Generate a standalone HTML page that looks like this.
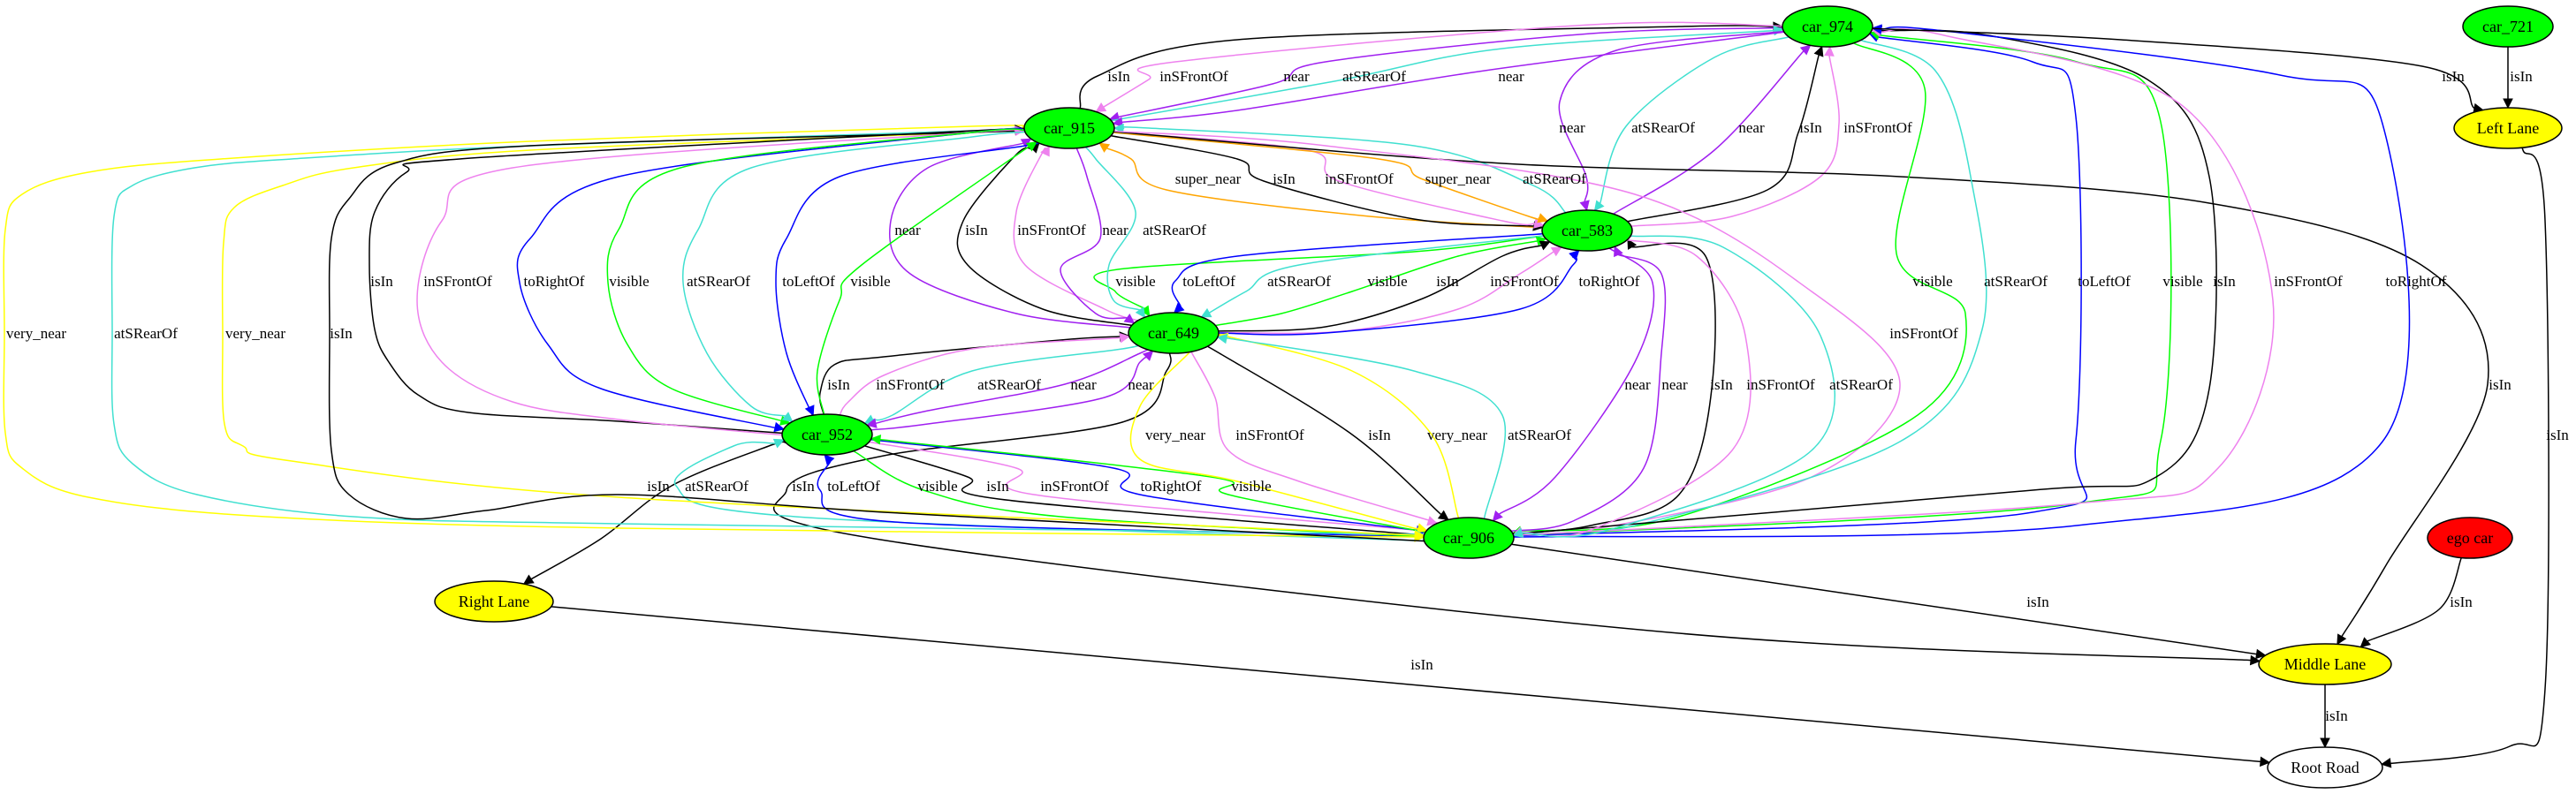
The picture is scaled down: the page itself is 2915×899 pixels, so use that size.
<!DOCTYPE html>
<html><head><meta charset="utf-8">
<style>
html,body{margin:0;padding:0;background:#fff;}
svg{display:block;}
text{font-family:"Liberation Serif",serif;font-size:17px;fill:#000;}
</style></head>
<body>
<svg id="g" xmlns="http://www.w3.org/2000/svg" width="2915" height="899" viewBox="0 0 2915 899">
<rect width="2915" height="899" fill="#fff"/>
<g id="edges"></g>
<g id="labels"></g>
<g id="nodes"></g>
</svg>
<script>
var NS="http://www.w3.org/2000/svg";
var N={
 c974:{x:2068,y:30,rx:51,ry:23,f:"#00ff00",t:"car_974"},
 c721:{x:2838,y:30,rx:51,ry:23,f:"#00ff00",t:"car_721"},
 c915:{x:1210,y:145,rx:51,ry:23,f:"#00ff00",t:"car_915"},
 c583:{x:1796,y:261,rx:51,ry:23,f:"#00ff00",t:"car_583"},
 c649:{x:1328,y:377,rx:51,ry:23,f:"#00ff00",t:"car_649"},
 c952:{x:936,y:492,rx:51,ry:23,f:"#00ff00",t:"car_952"},
 c906:{x:1662,y:609,rx:51,ry:23,f:"#00ff00",t:"car_906"},
 LL:{x:2838,y:145,rx:61,ry:23,f:"#ffff00",t:"Left Lane"},
 ML:{x:2631,y:752,rx:75,ry:23,f:"#ffff00",t:"Middle Lane"},
 RL:{x:559,y:681,rx:67,ry:23,f:"#ffff00",t:"Right Lane"},
 ego:{x:2795,y:609,rx:48,ry:23,f:"#ff0000",t:"ego car"},
 RR:{x:2631,y:869,rx:65,ry:23,f:"#ffffff",t:"Root Road"}
};
var K="#000",G="#00ff00",V="#ee82ee",P="#a020f0",T="#40e0d0",O="#ffa500",Y="#ffff00",B="#0000ff";
var E=[
["c915","c974",K,"isIn",1266,86,[[1242,86],[1400,45],[1900,30]]],
["c974","c915",V,"inSFrontOf",1351,86,[[1800,28],[1330,70],[1300,90]]],
["c974","c915",P,"near",1467,86,[[1800,38],[1500,70],[1440,95]]],
["c915","c974",T,"atSRearOf",1555,86,[[1510,92],[1700,55]]],
["c974","c915",P,"near",1710,86,[[1680,80],[1400,125]]],
["c974","c583",P,"near",1779,144,[[1829,57],[1765,115],[1795,200]]],
["c974","c583",T,"atSRearOf",1882,144,[[1940,65],[1840,143]]],
["c583","c974",P,"near",1982,144,[[1940,170]]],
["c583","c974",K,"isIn",2049,144,[[2000,215],[2035,150]]],
["c583","c974",V,"inSFrontOf",2125,144,[[1960,245],[2060,200],[2081,140]]],
["c583","c915",O,"super_near",1367,202,[[1550,245],[1320,215],[1280,180]]],
["c915","c583",K,"isIn",1453,202,[[1400,180],[1430,205],[1600,248]]],
["c915","c583",V,"inSFrontOf",1538,202,[[1480,170],[1515,205],[1700,250]]],
["c915","c583",O,"super_near",1650,202,[[1560,180],[1610,203],[1730,245]]],
["c583","c915",T,"atSRearOf",1759,202,[[1735,210],[1600,165],[1300,145]]],
["c915","ML",K,"isIn",2829,435,[[1700,185],[2150,200],[2500,230],[2740,300],[2815,435],[2700,640]]],
["c915","c906",V,"inSFrontOf",2177,377,[[1500,165],[1850,220],[2050,330],[2150,436],[2050,540],[1800,600]]],
["c974","c906",G,"visible",2187,318,[[2178,100],[2146,287],[2224,355],[2170,470],[1900,585]]],
["c974","c906",T,"atSRearOf",2281,318,[[2190,80],[2230,200],[2243,373],[2150,500],[1850,595]]],
["c906","c974",B,"toLeftOf",2381,318,[[2300,580],[2349,499],[2349,132],[2300,70]]],
["c906","c974",G,"visible",2470,318,[[2350,570],[2445,499],[2445,138],[2350,70]]],
["c906","c974",K,"isIn",2517,318,[[2300,555],[2440,540],[2500,440],[2500,200],[2430,90],[2250,40]]],
["c906","c974",V,"inSFrontOf",2612,318,[[2350,570],[2510,530],[2572,340],[2470,120],[2200,40]]],
["c906","c974",B,"toRightOf",2734,318,[[2350,595],[2696,500],[2696,140],[2580,85],[2200,35]]],
["c583","c906",P,"near",1853,435,[[1870,320],[1850,410],[1760,540]]],
["c906","c583",P,"near",1895,435,[[1780,590],[1860,530],[1880,400],[1880,310]]],
["c906","c583",K,"isIn",1948,435,[[1800,595],[1900,560],[1937,440],[1930,290]]],
["c583","c906",V,"inSFrontOf",2015,435,[[1920,290],[1975,380],[1960,510],[1800,600]]],
["c583","c906",T,"atSRearOf",2106,435,[[1950,280],[2060,380],[2050,510],[1820,600]]],
["c583","c649",G,"visible",1285,318,[[1600,285],[1265,305],[1262,330]]],
["c583","c649",B,"toLeftOf",1368,318,[[1400,290],[1330,318]]],
["c583","c649",T,"atSRearOf",1470,318,[[1470,300],[1410,330]]],
["c649","c583",G,"visible",1570,318,[[1450,355],[1530,330],[1650,290]]],
["c649","c583",K,"isIn",1638,318,[[1500,370],[1610,338],[1700,290]]],
["c649","c583",V,"inSFrontOf",1725,318,[[1520,375],[1650,350],[1720,310]]],
["c649","c583",B,"toRightOf",1821,318,[[1500,377],[1720,350],[1780,300]]],
["c649","c915",P,"near",1027,260,[[1150,355],[1030,310],[1008,250],[1050,190]]],
["c649","c915",K,"isIn",1105,260,[[1180,350],[1095,300],[1090,250],[1150,175]]],
["c649","c915",V,"inSFrontOf",1190,260,[[1250,350],[1160,300],[1150,240],[1180,172]]],
["c915","c649",P,"near",1262,260,[[1230,200],[1245,270],[1200,305],[1240,355]]],
["c915","c649",T,"atSRearOf",1329,260,[[1240,180],[1285,240],[1255,300],[1260,340]]],
["c952","c649",K,"isIn",949,435,[[928,445],[944,413],[1000,404],[1200,385]]],
["c952","c649",V,"inSFrontOf",1030,435,[[960,455],[1000,425],[1100,395]]],
["c649","c952",T,"atSRearOf",1142,435,[[1270,395],[1100,420],[1010,470]]],
["c649","c952",P,"near",1226,435,[[1290,400],[1205,435],[1050,465]]],
["c952","c649",P,"near",1291,435,[[1050,480],[1250,450],[1290,410]]],
["c649","ML",K,"isIn",909,550,[[1320,420],[1270,478],[1000,516],[890,555],[990,610],[1900,717]]],
["c952","RL",K,"isIn",745,550,[[870,505],[760,550],[680,610]]],
["c906","c952",T,"atSRearOf",811,550,[[1600,612],[900,585],[765,550],[830,505]]],
["c906","c952",B,"toLeftOf",966,550,[[1500,605],[1000,590],[928,555]]],
["c952","c906",G,"visible",1061,550,[[968,512],[1045,555],[1200,585],[1600,607]]],
["c952","c906",K,"isIn",1129,550,[[975,505],[1095,540],[1130,565],[1600,605]]],
["c952","c906",V,"inSFrontOf",1216,550,[[985,498],[1150,530],[1170,560],[1600,600]]],
["c952","c906",B,"toRightOf",1325,550,[[985,495],[1260,530],[1290,560],[1600,600]]],
["c906","c952",G,"visible",1416,550,[[1600,600],[1390,560],[1370,540],[990,497]]],
["c649","c906",Y,"very_near",1330,492,[[1345,400],[1290,460],[1290,520],[1400,545],[1600,598]]],
["c649","c906",V,"inSFrontOf",1437,492,[[1350,402],[1375,450],[1390,510],[1470,545],[1620,590]]],
["c649","c906",K,"isIn",1561,492,[[1380,400],[1530,492]]],
["c906","c649",Y,"very_near",1649,492,[[1650,585],[1620,492],[1530,420],[1385,380]]],
["c906","c649",T,"atSRearOf",1742,492,[[1680,585],[1700,470],[1600,420],[1390,383]]],
["c906","ML",K,"isIn",2306,681,[]],
["RL","RR",K,"isIn",1609,752,[]],
["ego","ML",K,"isIn",2785,681,[[2760,690]]],
["LL","RR",K,"isIn",2894,492,[[2855,170],[2880,250],[2880,780],[2840,845],[2700,865]]],
["c721","LL",K,"isIn",2853,86,[]],
["c974","LL",K,"isIn",2776,86,[[2400,45],[2741,75]]],
["ML","RR",K,"isIn",2644,810,[]],
["c915","c906",Y,"very_near",41,377,[[1100,143],[600,160],[250,180],[100,195],[25,220],[6,260],[5,377],[6,490],[25,530],[100,563],[300,585],[700,598],[1600,608]]],
["c915","c906",T,"atSRearOf",165,377,[[1100,148],[600,165],[330,180],[220,190],[150,210],[129,245],[127,377],[129,480],[150,525],[223,560],[400,585],[700,593],[1600,605]]],
["c915","c906",Y,"very_near",289,377,[[1100,150],[600,170],[400,190],[320,210],[265,235],[253,275],[252,377],[254,480],[275,505],[330,522],[700,563],[1600,606]]],
["c906","c915",K,"isIn",386,377,[[1600,612],[1000,580],[700,560],[550,578],[460,587],[395,560],[375,510],[373,377],[375,270],[395,225],[446,185],[600,165],[1100,150]]],
["c952","c915",K,"isIn",432,318,[[880,490],[700,477],[530,467],[473,447],[440,410],[424,373],[418,300],[424,240],[460,195],[520,180],[1100,148]]],
["c952","c915",V,"inSFrontOf",518,318,[[880,492],[700,475],[580,455],[500,410],[472,340],[500,250],[580,190],[1100,150]]],
["c915","c952",B,"toRightOf",627,318,[[1100,150],[700,200],[600,270],[588,320],[620,390],[680,440],[880,485]]],
["c915","c952",G,"visible",712,318,[[1100,150],[770,190],[700,260],[688,320],[710,390],[760,440],[890,478]]],
["c915","c952",T,"atSRearOf",813,318,[[1100,155],[850,190],[790,260],[773,320],[800,400],[850,460]]],
["c915","c952",B,"toLeftOf",915,318,[[1160,165],[950,200],[890,270],[878,320],[890,400],[918,467]]],
["c952","c915",G,"visible",985,318,[[922,470],[925,420],[950,340],[975,300],[1170,162]]]
];
function inside(n,p){var dx=(p[0]-n.x)/n.rx,dy=(p[1]-n.y)/n.ry;return dx*dx+dy*dy<1.05;}
function clip(n,p){var dx=p[0]-n.x,dy=p[1]-n.y;var t=1/Math.sqrt((dx/n.rx)*(dx/n.rx)+(dy/n.ry)*(dy/n.ry));return [n.x+dx*t,n.y+dy*t];}
function el(tag,attrs,parent){var e=document.createElementNS(NS,tag);for(var k in attrs)e.setAttribute(k,attrs[k]);parent.appendChild(e);return e;}
var ge=document.getElementById("edges"),gl=document.getElementById("labels"),gn=document.getElementById("nodes");
E.forEach(function(e){
 var A=N[e[0]],Bn=N[e[1]];
 var w=e[6].filter(function(p){return !inside(A,p)&&!inside(Bn,p);});
 var first=w.length?w[0]:[Bn.x,Bn.y];
 var last=w.length?w[w.length-1]:[A.x,A.y];
 var s=clip(A,first),en=clip(Bn,last);
 var pts=[s].concat(w).concat([en]);
 var n=pts.length;
 var prev=pts[n-2];
 var pp=pts[n-3]||prev;
 var c2=[en[0]-(en[0]-pp[0])/6,en[1]-(en[1]-pp[1])/6];
 if(n==2)c2=prev;
 var dx=en[0]-c2[0],dy=en[1]-c2[1],L=Math.sqrt(dx*dx+dy*dy)||1;dx/=L;dy/=L;
 var e2=[en[0]-dx*10,en[1]-dy*10];
 pts[n-1]=e2;
 var d="M"+pts[0][0].toFixed(1)+","+pts[0][1].toFixed(1);
 for(var i=0;i<n-1;i++){
  var p0=pts[i-1]||pts[i],p1=pts[i],p2=pts[i+1],p3=pts[i+2]||p2;
  var a=[p1[0]+(p2[0]-p0[0])/6,p1[1]+(p2[1]-p0[1])/6];
  var b=[p2[0]-(p3[0]-p1[0])/6,p2[1]-(p3[1]-p1[1])/6];
  d+=" C"+a[0].toFixed(1)+","+a[1].toFixed(1)+" "+b[0].toFixed(1)+","+b[1].toFixed(1)+" "+p2[0].toFixed(1)+","+p2[1].toFixed(1);
 }
 el("path",{d:d,fill:"none",stroke:e[2],"stroke-width":"1.5"},ge);
 var px=-dy,py=dx;
 var poly=[en,[e2[0]+px*5,e2[1]+py*5],[e2[0]-px*5,e2[1]-py*5]].map(function(p){return p[0].toFixed(1)+","+p[1].toFixed(1);}).join(" ");
 el("polygon",{points:poly,fill:e[2],stroke:e[2],"stroke-width":"1"},ge);
 var t=el("text",{x:e[4],y:e[5]+6,"text-anchor":"middle"},gl);t.textContent=e[3];
});
for(var k in N){var n=N[k];
 el("ellipse",{cx:n.x,cy:n.y,rx:n.rx,ry:n.ry,fill:n.f,stroke:"#000","stroke-width":"1.5"},gn);
 var t=el("text",{x:n.x,y:n.y+6,"text-anchor":"middle",style:"font-size:18px"},gn);t.textContent=n.t;}
</script>
</body></html>
